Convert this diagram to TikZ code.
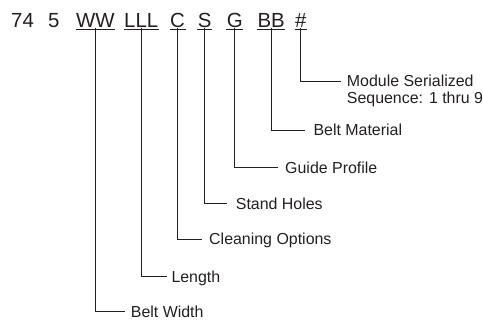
\documentclass[tikz,border=0pt]{standalone}
\usepackage{fontspec}
\setmainfont{Liberation Sans}
\usetikzlibrary{calc}
\definecolor{ink}{RGB}{35,31,32}
\begin{document}
\begin{tikzpicture}[x=1bp,y=-1bp,
  code/.style={anchor=base west,inner sep=0pt,font=\fontsize{20.5}{24}\selectfont,text=ink},
  lab/.style={anchor=base west,inner sep=0pt,font=\fontsize{16}{17.3}\selectfont,text=ink,align=left},
  uline/.style={draw=ink,line width=1.4bp},
  conn/.style={draw=ink,line width=0.8bp}]
\useasboundingbox (0,0) rectangle (483,320);
% code
\node[code] (n74) at (11,27.7) {74};
\node[code] (n5) at (48,27.7) {5};
\node[code] (ww) at (76,27.7) {WW};
\node[code] (lll) at (124,27.7) {LLL};
\node[code] (c) at (170,27.7) {C};
\node[code] (s) at (197.7,27.7) {S};
\node[code] (g) at (226.7,27.7) {G};
\node[code] (bb) at (257.3,27.7) {BB};
\node[code] (hash) at (295,27.7) {\#};
\foreach \n in {ww,lll,c,s,g,bb,hash}
  \draw[uline] ([xshift=-0.5bp,yshift=-1.8bp]\n.base west) -- ([xshift=0.5bp,yshift=-1.8bp]\n.base east);
% labels
\node[lab] (mod) at (346.7,103.8) {Module Serialized\\Sequence: 1 thru 9};
\node[lab] (bm) at (313.3,135.7) {Belt Material};
\node[lab] (gp) at (285,173.4) {Guide Profile};
\node[lab] (sh) at (235.7,209) {Stand Holes};
\node[lab] (co) at (209,244.7) {Cleaning Options};
\node[lab] (len) at (171.3,282.4) {Length};
\node[lab] (bw) at (130.7,317.4) {Belt Width};
% connectors
\draw[conn] (hash.base) |- ([shift={(-6,-22.2)}]mod.base west);
\draw[conn] (bb.base) |- ([shift={(-8.3,-5.7)}]bm.base west);
\draw[conn] (g.base) |- ([shift={(-6.7,-5.7)}]gp.base west);
\draw[conn] (s.base) |- ([shift={(-9,-5.7)}]sh.base west);
\draw[conn] (c.base) |- ([shift={(-7.3,-5.7)}]co.base west);
\draw[conn] (lll.base) |- ([shift={(-4.6,-5.7)}]len.base west);
\draw[conn] (ww.base) |- ([shift={(-5.7,-5.7)}]bw.base west);
\end{tikzpicture}
\end{document}
